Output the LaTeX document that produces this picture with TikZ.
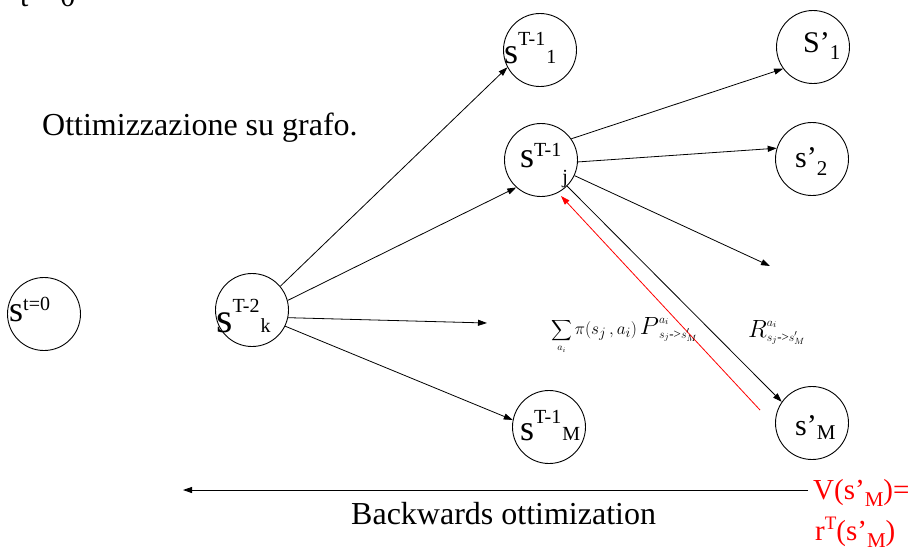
\documentclass[tikz,border=0pt]{standalone}
\usepackage{amsmath}
\usepackage{exscale}
\usepackage{fontspec}
\setmainfont{Liberation Serif}
\usetikzlibrary{arrows.meta}
\newcommand\fs[1]{\fontsize{#1}{#1}\selectfont}
\newcommand\nlab[6]{{\fs{#1}#2}\raisebox{#5pt}{\fs{20}#3}\hspace{1pt}\raisebox{#6pt}{\fs{20}#4}}
\newcommand\scr[2]{{\fs{#1}$#2$}\rlap{\raisebox{11pt}{\fs{13}$a_i$}}\raisebox{-4pt}{\fs{13}$s_j$\mbox{->}$s'_M$}}
\begin{document}
\begin{tikzpicture}[x=1pt,y=-1pt,
  st/.style={draw,circle,minimum size=73pt,inner sep=0pt,line width=0.9pt},
  lbl/.style={inner sep=0pt,anchor=base west},
  arr/.style={-{Triangle[length=9pt,width=6pt]},line width=0.8pt},
  redarr/.style={-{Triangle[length=9pt,width=6pt]},line width=0.8pt,red}]
\useasboundingbox (0,0) rectangle (923,550);
\clip (0,0) rectangle (923,550);
% top clipped text
\node[lbl] (t0) at (20,6) {\fs{30}t = 0};
\node[lbl] (title) at (42,135) {\fs{32}Ottimizzazione su grafo.};
% circles
\node[st] (n0) at (44,314) {};
\node[lbl] (l0) at (9,321) {\nlab{36}{s}{t=0}{}{11}{0}};
\node[st] (k) at (252,310) {};
\node[lbl] (lk) at (216,332) {\nlab{42}{s}{T-2}{k}{20}{0}};
\node[st] (n1) at (540,50) {};
\node[lbl] (l1) at (504,63) {\nlab{36}{s}{T-1}{1}{18}{0}};
\node[st] (j) at (541,160) {};
\node[lbl] (lj) at (520,167) {\nlab{36}{s}{T-1}{j}{11}{-16}};
\node[st] (nM) at (549,427) {};
\node[lbl] (lM) at (520,440) {\nlab{36}{s}{T-1}{M}{17}{0}};
\node[st] (s1) at (813,47) {};
\node[lbl] (ls1) at (803,52) {{\fs{30}S’}\raisebox{-7pt}{\fs{21}1}};
\node[st] (s2) at (812,159) {};
\node[lbl] (ls2) at (795,167) {{\fs{30}s’}\raisebox{-8pt}{\fs{21}2}};
\node[st] (sM) at (812,423) {};
\node[lbl] (lsM) at (795,435) {{\fs{30}s’}\raisebox{-4pt}{\fs{21}M}};
% free ends
\coordinate (f1) at (487,323);
\coordinate (f2) at (770,266);
\coordinate (r1) at (760,410);
\coordinate (r2) at (561,196);
\coordinate (b1) at (808,490);
\coordinate (b2) at (183,490);
% connectors
\draw[arr] (k.40) -- (n1.208);
\draw[arr] (k.15) -- (j.228);
\draw[arr] (k.-12) -- (f1);
\draw[arr] (k.-26) -- (nM.169);
\draw[arr] (j.35) -- (s1.216);
\draw[arr] (j.-3) -- (s2.163);
\draw[arr] (j.-25) -- (f2);
\draw[arr] (j.-45) -- (sM.145);
\draw[redarr] (r1) -- (r2);
\draw[arr] (b1) -- (b2);
% formulas
\node[lbl] (fm) at (551,334) {{\fs{14}$\displaystyle\sum_{a_i}$}{\fs{19}$\,\pi(s_{j}\,,a_{i})\,$}\scr{23}{P}};
\node[lbl] (R) at (748,337) {\scr{24}{R}};
% bottom texts
\node[lbl] (bw) at (351,524) {\fs{32}Backwards ottimization};
\node[lbl,red] (v1) at (813,499) {{\fs{29}V(s’}\raisebox{-7pt}{\fs{21}M}{\fs{29})=}};
\node[lbl,red] (v2) at (815,540) {{\fs{29}r}\raisebox{11pt}{\fs{19}T}{\fs{29}(s’}\raisebox{-7pt}{\fs{21}M}{\fs{29})}};
\end{tikzpicture}
\end{document}
